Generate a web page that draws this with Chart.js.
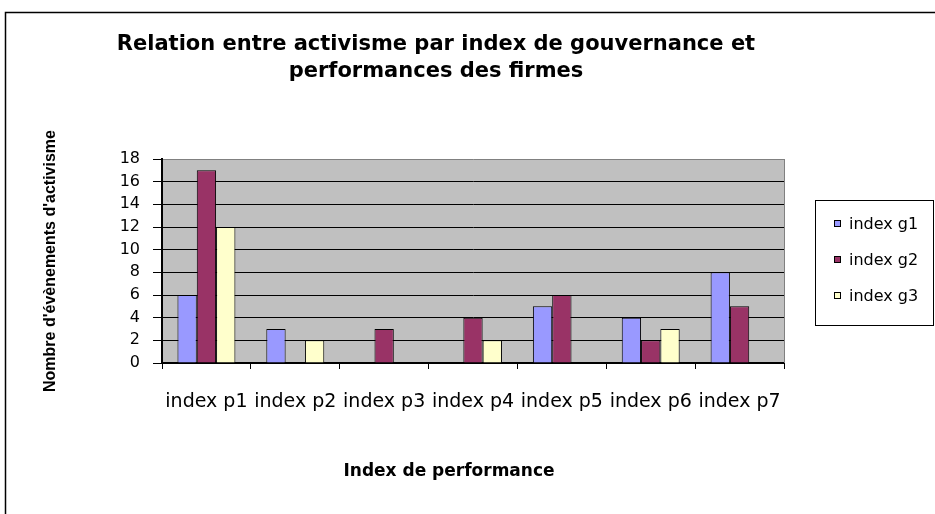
<!DOCTYPE html>
<html>
<head>
<meta charset="utf-8">
<script src="https://cdn.jsdelivr.net/npm/chart.js@4.4.1/dist/chart.umd.min.js"></script>
<style>
html,body{margin:0;padding:0;background:#fff;}
#wrap{width:935px;height:514px;position:relative;}
</style>
</head>
<body>
<div id="wrap"><canvas id="c" width="935" height="514"></canvas></div>
<script>
// ---- data ----
const categories = ['index p1','index p2','index p3','index p4','index p5','index p6','index p7'];
const seriesNames = ['index g1','index g2','index g3'];
const g1 = [6, 3, 0, 0, 5, 4, 8];
const g2 = [17, 0, 3, 4, 6, 2, 5];
const g3 = [12, 2, 0, 2, 0, 3, 0];
const yTicks = [0, 2, 4, 6, 8, 10, 12, 14, 16, 18];
const titleLines = ['Relation entre activisme par index de gouvernance et', 'performances des firmes'];
const xTitle = 'Index de performance';
const yTitle = "Nombre d'évènements d'activisme";
const seriesColors = ['#9999FF', '#993366', '#FFFFCC'];

const seriesValues = [g1, g2, g3];

const decor = {
  id: 'decor',
  beforeDraw(chart) {
    const {ctx, chartArea: a} = chart;
    ctx.save();
    ctx.fillStyle = '#ffffff';
    ctx.fillRect(0, 0, chart.width, chart.height);
    ctx.fillStyle = '#C0C0C0';
    ctx.fillRect(a.left, a.top, a.right - a.left, a.bottom - a.top);
    ctx.strokeStyle = '#000';
    ctx.lineWidth = 1.5;
    ctx.beginPath();
    ctx.moveTo(5.5, 514);
    ctx.lineTo(5.5, 12.5);
    ctx.lineTo(935, 12.5);
    ctx.stroke();
    ctx.restore();
  },
  afterDraw(chart) {
    const {ctx, chartArea: a} = chart;
    ctx.save();
    // plot area right border
    ctx.strokeStyle = '#808080';
    ctx.lineWidth = 1;
    ctx.beginPath();
    ctx.moveTo(Math.round(a.right) + 0.5, a.top);
    ctx.lineTo(Math.round(a.right) + 0.5, a.bottom);
    ctx.stroke();

    // chart title
    ctx.fillStyle = '#000';
    ctx.textAlign = 'center';
    ctx.textBaseline = 'alphabetic';
    ctx.font = 'bold 21px "DejaVu Sans"';
    ctx.fillText(titleLines[0], 436, 50);
    ctx.fillText(titleLines[1], 436, 77);

    // x axis title
    ctx.font = 'bold 17px "DejaVu Sans"';
    ctx.fillText(xTitle, 449, 476);

    // legend
    const lx = 815, ly = 200, lw = 118, lh = 125;
    ctx.strokeStyle = '#000';
    ctx.lineWidth = 1;
    ctx.strokeRect(lx + 0.5, ly + 0.5, lw, lh);
    ctx.font = '16px "DejaVu Sans"';
    ctx.textAlign = 'left';
    const baselines = [229, 265, 301];
    chart.data.datasets.forEach((ds, i) => {
      const by = baselines[i];
      ctx.fillStyle = ds.backgroundColor;
      ctx.fillRect(834, by - 9, 7, 7);
      ctx.strokeStyle = '#000';
      ctx.strokeRect(834.5, by - 8.5, 6, 6);
      ctx.fillStyle = '#000';
      ctx.fillText(ds.label, 849, by);
    });
    ctx.restore();
  }
};

new Chart(document.getElementById('c'), {
  type: 'bar',
  data: {
    labels: categories,
    datasets: seriesNames.map((name, i) => ({
      label: name,
      data: seriesValues[i],
      backgroundColor: seriesColors[i],
      borderColor: '#000',
      borderWidth: 1,
      categoryPercentage: 0.652,
      barPercentage: 1.0
    }))
  },
  options: {
    responsive: false,
    animation: false,
    devicePixelRatio: 1,
    layout: { padding: { left: 5, right: 151, top: 159, bottom: 0 } },
    plugins: {
      legend: { display: false },
      title: { display: false },
      tooltip: { enabled: false }
    },
    scales: {
      x: {
        offset: true,
        grid: { drawOnChartArea: false, drawTicks: true, tickLength: 6, color: '#000', lineWidth: 1, offset: true },
        border: { display: true, color: '#000', width: 2 },
        ticks: {
          color: '#000',
          font: { family: '"DejaVu Sans"', size: 19 },
          padding: 22,
          maxRotation: 0,
          autoSkip: false
        },
        afterFit(scale) { scale.height = 151; }
      },
      y: {
        min: 0,
        max: 18,
        afterBuildTicks(scale) { scale.ticks = yTicks.map(v => ({ value: v })); },
        grid: {
          color: (c) => (c.tick && c.tick.value === 18) ? '#808080' : '#000',
          tickColor: '#000',
          lineWidth: 1,
          drawTicks: true,
          tickLength: 9
        },
        border: { display: true, color: '#000', width: 2 },
        ticks: {
          color: '#000',
          font: { family: '"DejaVu Sans"', size: 16 },
          padding: 13
        },
        title: {
          display: true,
          text: yTitle,
          color: '#000',
          font: { family: '"Liberation Sans"', size: 16, weight: 'bold' },
          padding: { top: 36, bottom: 0 }
        },
        afterFit(scale) { scale.width = 157; }
      }
    }
  },
  plugins: [decor]
});
</script>
</body>
</html>
